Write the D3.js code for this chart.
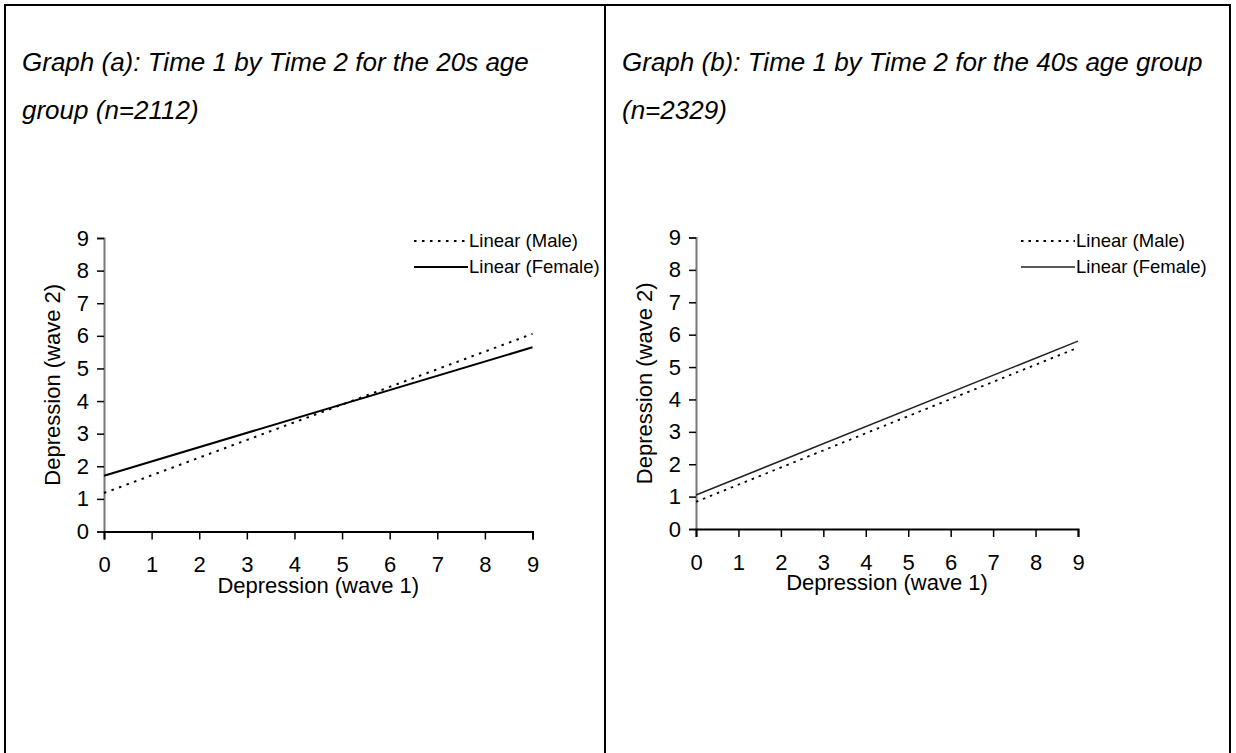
<!DOCTYPE html>
<html>
<head>
<meta charset="utf-8">
<script src="https://cdn.jsdelivr.net/npm/d3@7"></script>
<style>
  html, body { margin: 0; padding: 0; background: #fff; }
  svg { display: block; }
  text { font-family: "Liberation Sans", Arial, sans-serif; fill: #000; }
</style>
</head>
<body>
<svg id="chart" width="1236" height="753"></svg>
<script>
// Depression at wave 1 (x) against wave 2 (y): fitted linear trends by sex
const waveOne = [0, 9];
const maleA = [1.18, 6.06];
const femaleA = [1.71, 5.65];
const maleB = [0.84, 5.60];
const femaleB = [1.05, 5.80];
const tickValues = [0, 1, 2, 3, 4, 5, 6, 7, 8, 9];
const titleA = ["Graph (a): Time 1 by Time 2 for the 20s age", "group (n=2112)"];
const titleB = ["Graph (b): Time 1 by Time 2 for the 40s age group", "(n=2329)"];
const legendLabels = ["Linear (Male)", "Linear (Female)"];
const xLabel = "Depression (wave 1)";
const yLabel = "Depression (wave 2)";

const svg = d3.select("#chart");

// table frame
const frame = svg.append("g").attr("stroke", "#000").attr("stroke-width", 2);
frame.append("line").attr("x1", 5).attr("x2", 1231).attr("y1", 5).attr("y2", 5);
[5, 605, 1230].forEach(x =>
  frame.append("line").attr("x1", x).attr("x2", x).attr("y1", 4).attr("y2", 753));

function panel(cfg) {
  const g = svg.append("g");

  // heading, two lines
  cfg.title.forEach((t, i) => {
    g.append("text")
      .attr("x", cfg.titleX).attr("y", 71 + i * 48)
      .attr("font-size", 26).attr("font-style", "italic")
      .text(t);
  });

  const x = d3.scaleLinear().domain([0, 9]).range([cfg.x0, cfg.x1]);
  const y = d3.scaleLinear().domain([0, 9]).range([cfg.y0, cfg.y1]);

  // y axis
  const ya = g.append("g").attr("transform", `translate(${cfg.x0},0)`)
    .call(d3.axisLeft(y).tickValues(tickValues).tickSize(7).tickSizeOuter(7).tickPadding(8).tickFormat(d3.format("d")));
  ya.attr("font-size", null).attr("font-family", null);
  ya.select(".domain").attr("stroke", "#777").attr("stroke-width", 2);
  ya.selectAll(".tick line").attr("stroke", "#000").attr("stroke-width", 1.5);
  ya.selectAll(".tick text").style("font-size", "22px");

  // x axis
  const xa = g.append("g").attr("transform", `translate(0,${cfg.y0})`)
    .call(d3.axisBottom(x).tickValues(tickValues).tickSize(8).tickSizeOuter(8).tickPadding(17).tickFormat(d3.format("d")));
  xa.attr("font-size", null).attr("font-family", null);
  xa.select(".domain").attr("stroke", "#000").attr("stroke-width", 2);
  xa.selectAll(".tick line").attr("stroke", "#000").attr("stroke-width", 1.5);
  xa.selectAll(".tick text").style("font-size", "22px");

  // axis titles
  g.append("text")
    .attr("x", (cfg.x0 + cfg.x1) / 2).attr("y", cfg.y0 + 61)
    .attr("text-anchor", "middle").style("font-size", "22px")
    .text(xLabel);
  g.append("text")
    .attr("transform", `translate(${cfg.x0 - 44},${(cfg.y0 + cfg.y1) / 2}) rotate(-90)`)
    .attr("text-anchor", "middle").style("font-size", "22px")
    .text(yLabel);

  // trend lines
  const line = d3.line().x(d => x(d[0])).y(d => y(d[1]));
  const series = [
    { vals: cfg.male, dash: cfg.maleDash, width: cfg.maleWidth, color: "#000" },
    { vals: cfg.female, dash: null, width: cfg.femaleWidth, color: cfg.femaleColor }
  ];
  series.forEach(s => {
    g.append("path")
      .datum(waveOne.map((w, i) => [w, s.vals[i]]))
      .attr("fill", "none").attr("stroke", s.color)
      .attr("stroke-width", s.width)
      .attr("stroke-dasharray", s.dash)
      .attr("d", line);
  });

  // legend
  series.forEach((s, i) => {
    const ly = 241 + i * 26;
    g.append("line")
      .attr("x1", cfg.legendX).attr("x2", cfg.legendX + 54)
      .attr("y1", ly).attr("y2", ly)
      .attr("stroke", s.color).attr("stroke-width", s.width)
      .attr("stroke-dasharray", s.dash);
    g.append("text")
      .attr("x", cfg.legendX + 55).attr("y", ly).attr("dy", "0.35em")
      .style("font-size", "18.5px")
      .text(legendLabels[i]);
  });
}

panel({
  title: titleA, titleX: 22,
  x0: 104, x1: 532.5, y0: 531.5, y1: 238,
  male: maleA, female: femaleA,
  maleDash: "2.5,5.5", maleWidth: 2, femaleWidth: 2, femaleColor: "#000",
  legendX: 414
});

panel({
  title: titleB, titleX: 622,
  x0: 696, x1: 1078, y0: 529, y1: 237.5,
  male: maleB, female: femaleB,
  maleDash: "2.5,5", maleWidth: 1.8, femaleWidth: 1.5, femaleColor: "#222",
  legendX: 1021
});
</script>
</body>
</html>
